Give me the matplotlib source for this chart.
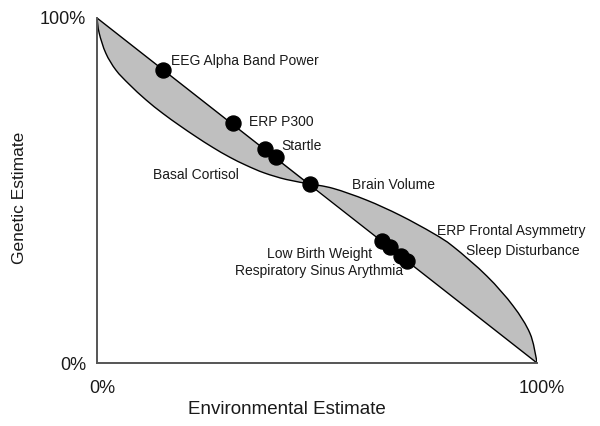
import matplotlib
matplotlib.use('Agg')
import matplotlib.pyplot as plt
from matplotlib.path import Path
from matplotlib.patches import PathPatch
from matplotlib.transforms import ScaledTranslation

plt.rcParams['font.family'] = ['Liberation Sans', 'DejaVu Sans']

# lower boundary of the upper-left lens
lens1_x = [0.0, 0.005, 0.020, 0.043, 0.073, 0.111, 0.149, 0.187, 0.225, 0.263,
           0.301, 0.339, 0.380, 0.430, 0.484]
lens1_y = [1.0, 0.956, 0.898, 0.849, 0.808, 0.763, 0.724, 0.689, 0.656, 0.625,
           0.597, 0.573, 0.551, 0.532, 0.519]

# upper boundary of the lower-right lens
lens2_x = [0.484, 0.537, 0.613, 0.689, 0.764, 0.810, 0.886, 0.946, 0.984, 0.999, 1.0]
lens2_y = [0.519, 0.506, 0.472, 0.428, 0.376, 0.337, 0.252, 0.165, 0.086, 0.009, 0.0]

# the measures (dots)
dot_env = [0.149, 0.310, 0.382, 0.407, 0.484, 0.648, 0.667, 0.690, 0.705]
dot_gen = [0.849, 0.695, 0.620, 0.596, 0.519, 0.354, 0.335, 0.311, 0.296]

labels = ['EEG Alpha Band Power', 'ERP P300', 'Startle', 'Basal Cortisol',
          'Brain Volume', 'ERP Frontal Asymmetry', 'Sleep Disturbance',
          'Low Birth Weight', 'Respiratory Sinus Arythmia']
label_x = [0.168, 0.345, 0.418, 0.127, 0.579, 0.773, 0.839, 0.505, 0.505]
label_y = [0.875, 0.699, 0.630, 0.545, 0.516, 0.383, 0.326, 0.315, 0.267]
label_ha = ['left', 'left', 'left', 'left', 'left', 'left', 'left', 'center', 'center']

tick_vals = [0, 1]
tick_labels = ['0%', '100%']


def smooth_path(xs, ys, close_straight=False):
    # bezier segments through the read points (catmull-rom style handles)
    pts = list(zip(xs, ys))
    n = len(pts)
    verts = [pts[0]]
    codes = [Path.MOVETO]
    for i in range(n - 1):
        p0 = pts[max(i - 1, 0)]
        p1 = pts[i]
        p2 = pts[i + 1]
        p3 = pts[min(i + 2, n - 1)]
        c1 = (p1[0] + (p2[0] - p0[0]) / 6, p1[1] + (p2[1] - p0[1]) / 6)
        c2 = (p2[0] - (p3[0] - p1[0]) / 6, p2[1] - (p3[1] - p1[1]) / 6)
        verts += [c1, c2, p2]
        codes += [Path.CURVE4] * 3
    if close_straight:
        verts += [pts[0], pts[0]]
        codes += [Path.LINETO, Path.CLOSEPOLY]
    return Path(verts, codes)


fig = plt.figure(figsize=(6, 4.26), dpi=100)
ax = fig.add_axes([97/600, 1-363/426, 440/600, 345/426])

gray = '#bfbfbf'
for xs, ys in [(lens1_x, lens1_y), (lens2_x, lens2_y)]:
    ax.add_patch(PathPatch(smooth_path(xs, ys, True), facecolor=gray, lw=0))
    ax.add_patch(PathPatch(smooth_path(xs, ys), facecolor='none',
                           edgecolor='black', lw=1.0))
# the diagonal
ax.plot([lens1_x[0], lens2_x[-1]], [lens1_y[0], lens2_y[-1]], color='black', lw=1.0)

ax.plot(dot_env, dot_gen, 'o', color='black', ms=10.8, zorder=5)

for i in range(len(labels)):
    ax.text(label_x[i], label_y[i], labels[i], fontsize=10, ha=label_ha[i],
            va='center', color='#1a1a1a')

ax.set_xlim(0, 1)
ax.set_ylim(0, 1)
ax.set_xticks(tick_vals)
ax.set_xticklabels(tick_labels, fontsize=13, color='#1a1a1a')
ax.set_yticks(tick_vals)
ax.set_yticklabels(tick_labels, fontsize=13, color='#1a1a1a')
ax.tick_params(length=0)
ax.tick_params(axis='x', pad=12)
ax.tick_params(axis='y', pad=8)
shift = ScaledTranslation(5/100, 0, fig.dpi_scale_trans)
for lab in ax.get_xticklabels():
    lab.set_transform(lab.get_transform() + shift)
for s in ['top', 'right']:
    ax.spines[s].set_visible(False)
for s in ['left', 'bottom']:
    ax.spines[s].set_color('#555555')
    ax.spines[s].set_linewidth(1.4)

fig.text(287/600, 1-410/426, 'Environmental Estimate', fontsize=13.5,
         ha='center', va='center', color='#1a1a1a')
fig.text(20/600, 1-198/426, 'Genetic Estimate', fontsize=12.5, rotation=90,
         ha='center', va='center', color='#1a1a1a')

fig.savefig('out.png', dpi=100)
